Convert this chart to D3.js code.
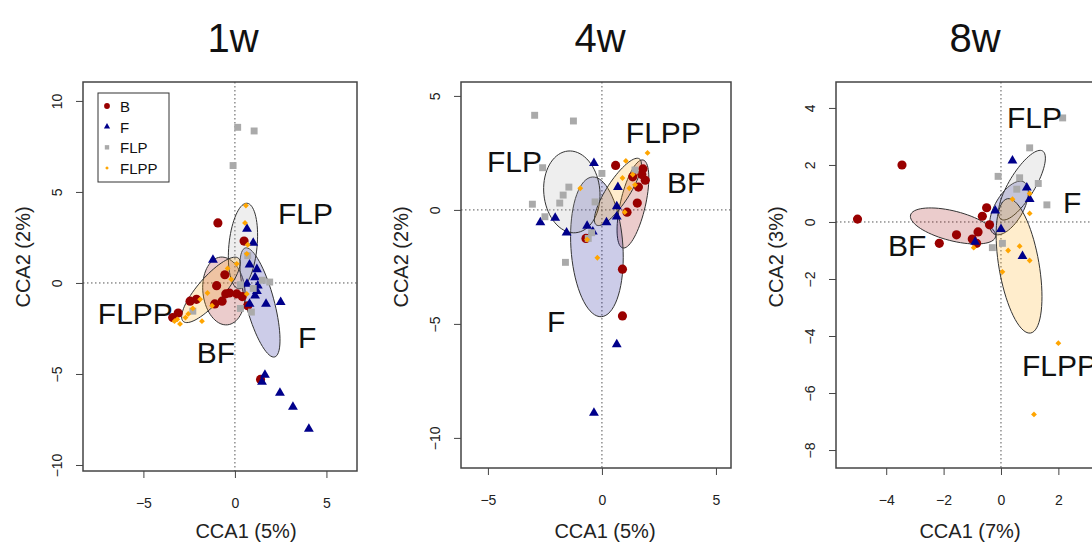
<!DOCTYPE html>
<html>
<head>
<meta charset="utf-8">
<script src="https://cdn.jsdelivr.net/npm/d3@7"></script>
<style>
body { margin: 0; background: #fff; }
svg { display: block; font-family: "Liberation Sans", Arial, sans-serif; }
</style>
</head>
<body>
<div id="grafica"></div>
<script>
var grupos = ["B", "F", "FLP", "FLPP"];
var nombres = ["BF", "F", "FLP", "FLPP"];
var titulos = ["1w", "4w", "8w"];
var ejeX = ["CCA1 (5%)", "CCA1 (5%)", "CCA1 (7%)"];
var ejeY = ["CCA2 (2%)", "CCA2 (2%)", "CCA2 (3%)"];
var ticksX = [[-5, 0, 5], [-5, 0, 5], [-4, -2, 0, 2]];
var ticksY = [[-10, -5, 0, 5, 10], [-10, -5, 0, 5], [-8, -6, -4, -2, 0, 2, 4]];

// 1w
var b1 = [[-0.93,3.3],[0.5,2.3],[-0.55,0.45],[-1.0,-0.15],[-0.3,-0.55],[0.1,-0.6],[0.4,-0.75],[0.7,-1.25],[-0.7,-1.0],[-1.1,-1.15],[-2.1,-0.9],[-2.45,-1.0],[-3.1,-1.65],[-3.4,-1.9],[-0.5,-0.6],[1.4,-5.3]];
var f1 = [[0.66,2.97],[1.0,2.2],[-1.2,1.26],[0.8,1.0],[1.2,0.75],[1.1,0.3],[1.25,-0.15],[1.2,-0.45],[1.1,-0.7],[1.7,-1.15],[2.5,-1.05],[0.8,-1.15],[0.66,-0.05],[1.64,-5.05],[1.48,-5.44],[2.46,-6.04],[3.17,-6.81],[4.04,-8.02]];
var flp1 = [[0.15,8.55],[1.05,8.35],[-0.1,6.45],[1.9,0.05],[1.5,0.15],[1.0,-0.3],[0.9,-1.6],[0.3,-1.4],[-2.3,-1.55],[0.7,1.5],[0.3,-0.1]];
var flpp1 = [[0.6,4.25],[0.55,3.3],[0.7,2.1],[0.65,1.6],[0.1,1.05],[-0.4,0.8],[-0.2,0.2],[-1.5,-0.55],[-1.9,-0.9],[-2.3,-1.4],[-2.55,-1.7],[-3.0,-2.25],[-3.3,-2.1],[-3.15,-2.0],[-1.8,-2.1],[-1.25,-1.25],[0.65,-0.6],[-2.7,-1.9]];
// elipses: centro x, centro y, semieje mayor, semieje menor, angulo (grados)
var elip1 = [[-0.6,-0.44,1.87,1.15,96],[1.37,-1.07,3.1,0.77,105],[0.44,2.03,2.36,0.77,84.5],[-1.31,-0.38,2.3,0.71,49]];

// 4w
var b2 = [[0.6,1.95],[1.8,1.8],[1.9,1.3],[1.35,1.45],[1.6,1.0],[1.75,1.55],[1.55,0.3],[1.1,-0.1],[-0.7,-1.25],[0.9,-2.6],[0.9,-4.65]];
var f2 = [[-0.35,2.05],[0.7,1.0],[-2.7,-0.55],[-2.05,-0.35],[-1.55,-1.0],[-0.65,-0.7],[-0.4,-0.95],[0.2,-0.55],[0.65,-0.3],[0.65,0.15],[0.65,-5.9],[-0.35,-8.9]];
var flp2 = [[-2.95,4.15],[-1.25,3.9],[-2.6,1.85],[-1.45,1.0],[-1.7,0.65],[-1.85,0.3],[-3.05,0.25],[-2.5,-0.3],[-0.3,0.35],[0,1.6],[-0.45,-1.0],[-0.6,-1.25],[-1.6,-2.3],[1.45,1.75]];
var flpp2 = [[2.0,2.5],[1.05,2.15],[-0.95,0.95],[0.9,1.4],[1.35,1.55],[1.45,1.1],[1.0,-0.1],[-0.65,-1.3],[-0.2,-2.1],[1.2,0.95]];
var elip2 = [[1.36,0.26,1.98,0.55,77],[-0.22,-1.62,3.07,1.14,93.7],[-1.32,0.79,1.8,1.23,95.5],[0.7,0.79,1.73,0.5,57]];

// 8w
var b3 = [[-5.0,0.1],[-3.45,2.0],[-2.15,-0.75],[-1.55,-0.45],[-1.0,-0.6],[-0.8,-0.35],[-0.65,0.2],[-0.5,0.5],[-0.4,-0.1],[-0.85,-0.75]];
var f3 = [[0.4,2.15],[0.9,1.2],[1.0,0.8],[-0.2,0.4],[0.0,-0.25],[-0.9,-0.7],[0.75,-1.2]];
var flp3 = [[2.15,3.65],[1.0,2.6],[-0.1,1.6],[0.65,1.55],[0.55,1.15],[1.3,1.35],[1.6,0.6],[-0.3,-0.9],[0.05,-0.75]];
var flpp3 = [[-0.95,-0.9],[0.4,0.8],[1.0,1.0],[1.0,0.3],[0.25,-1.0],[0.65,-0.85],[1.0,-1.35],[0.05,-1.75],[2.0,-4.25],[1.15,-6.75]];
var elip3 = [[-1.67,-0.14,1.53,0.52,-14.5],[0.28,0.49,1.05,0.49,60],[0.73,1.29,1.4,0.45,59],[0.63,-1.54,2.39,0.7,99.7]];

var puntos = [[b1, f1, flp1, flpp1], [b2, f2, flp2, flpp2], [b3, f3, flp3, flpp3]];
var elipses = [elip1, elip2, elip3];

// posicion de las etiquetas de grupo (coordenadas del grafico)
var etiquetas = [
	[[-2.08,-4.4],[3.44,-3.57],[2.35,3.24],[-7.49,-2.25]],
	[[2.85,0.75],[-2.41,-5.35],[-5.04,1.67],[1.05,2.94]],
	[[-3.94,-1.19],[2.16,0.31],[0.21,3.29],[0.73,-5.42]]
];

var colores = ["#990000", "#00008b", "#aaaaaa", "#ffa500"];
var simbolos = [d3.symbolCircle, d3.symbolTriangle, d3.symbolSquare, d3.symbolSquare];
var tamanos = [66, 42, 48, 17];
var giros = [0, 0, 0, 45];

// marco de cada panel
var paneles = [
	{ x0: 83, x1: 357, y0: 82, y1: 471, dx: [-8.3, 6.67], dy: [-10.33, 11.04], tit: 233, tx: 246 },
	{ x0: 461, x1: 731, y0: 82, y1: 468, dx: [-6.18, 5.66], dy: [-11.32, 5.61], tit: 600, tx: 605 },
	{ x0: 836, x1: 1108, y0: 82, y1: 468, dx: [-5.75, 3.73], dy: [-8.63, 4.91], tit: 975, tx: 970 }
];

var svg = d3.select("#grafica").append("svg")
	.attr("width", 1092)
	.attr("height", 542);

function elipse(e, x, y) {
	var ang = e[4] * Math.PI / 180;
	var pts = d3.range(0, 73).map(function (i) {
		var t = i / 72 * 2 * Math.PI;
		var u = e[2] * Math.cos(t), v = e[3] * Math.sin(t);
		return [x(e[0] + u * Math.cos(ang) - v * Math.sin(ang)),
			y(e[1] + u * Math.sin(ang) + v * Math.cos(ang))];
	});
	return d3.line().curve(d3.curveLinearClosed)(pts);
}

paneles.forEach(function (p, k) {
	var x = d3.scaleLinear().domain(p.dx).range([p.x0, p.x1]);
	var y = d3.scaleLinear().domain(p.dy).range([p.y1, p.y0]);
	var g = svg.append("g");

	g.append("text")
		.attr("x", p.tit).attr("y", 52)
		.attr("text-anchor", "middle")
		.style("font-size", "40px")
		.attr("fill", "#111")
		.text(titulos[k]);

	// lineas de referencia
	g.append("line")
		.attr("x1", x(0)).attr("x2", x(0)).attr("y1", p.y0).attr("y2", p.y1)
		.attr("stroke", "#555").attr("stroke-dasharray", "1.5,2.5");
	g.append("line")
		.attr("x1", p.x0).attr("x2", p.x1).attr("y1", y(0)).attr("y2", y(0))
		.attr("stroke", "#555").attr("stroke-dasharray", "1.5,2.5");

	// elipses
	g.selectAll("path.elipse")
		.data(elipses[k])
		.enter()
		.append("path")
		.attr("class", "elipse")
		.attr("d", function (e) { return elipse(e, x, y); })
		.attr("fill", function (e, i) { return colores[i]; })
		.attr("fill-opacity", 0.2)
		.attr("stroke", "#333")
		.attr("stroke-width", 1);

	// puntos
	puntos[k].forEach(function (serie, i) {
		g.selectAll("path.p" + i)
			.data(serie)
			.enter()
			.append("path")
			.attr("class", "p" + i)
			.attr("d", d3.symbol().type(simbolos[i]).size(tamanos[i]))
			.attr("transform", function (d) {
				return "translate(" + x(d[0]) + "," + y(d[1]) + ") rotate(" + giros[i] + ")";
			})
			.attr("fill", colores[i]);
	});

	// etiquetas de grupo
	g.selectAll("text.grupo")
		.data(etiquetas[k])
		.enter()
		.append("text")
		.attr("class", "grupo")
		.attr("x", function (d) { return x(d[0]); })
		.attr("y", function (d) { return y(d[1]); })
		.style("font-size", "30px")
		.attr("fill", "#111")
		.text(function (d, i) { return nombres[i]; });

	// ejes
	var ax = g.append("g")
		.attr("transform", "translate(0," + p.y1 + ")")
		.call(d3.axisBottom(x).tickValues(ticksX[k]).tickSize(7).tickSizeOuter(0).tickFormat(d3.format("d")));
	ax.select(".domain").remove();
	ax.selectAll("line").attr("stroke", "#444");
	ax.selectAll("text").attr("y", 0).attr("dy", null).attr("transform", "translate(0,37)")
		.style("font-size", "14px").attr("fill", "#222").attr("font-family", null);

	var ay = g.append("g")
		.attr("transform", "translate(" + p.x0 + ",0)")
		.call(d3.axisLeft(y).tickValues(ticksY[k]).tickSize(7).tickSizeOuter(0).tickFormat(d3.format("d")));
	ay.select(".domain").remove();
	ay.selectAll("line").attr("stroke", "#444");
	ay.selectAll("text")
		.attr("x", null).attr("dy", null)
		.attr("text-anchor", "middle")
		.attr("transform", "translate(-21,0) rotate(-90)")
		.style("font-size", "14px").attr("fill", "#222").attr("font-family", null);

	// marco
	g.append("rect")
		.attr("x", p.x0).attr("y", p.y0)
		.attr("width", p.x1 - p.x0).attr("height", p.y1 - p.y0)
		.attr("fill", "none").attr("stroke", "#444").attr("stroke-width", 1.5);

	g.append("text")
		.attr("x", p.tx).attr("y", 538)
		.attr("text-anchor", "middle")
		.style("font-size", "20px").attr("fill", "#222")
		.text(ejeX[k]);
	g.append("text")
		.attr("transform", "translate(" + (p.x0 - 53) + ",257) rotate(-90)")
		.attr("text-anchor", "middle")
		.style("font-size", "20px").attr("fill", "#222")
		.text(ejeY[k]);
});

// leyenda (solo en 1w)
var ley = svg.append("g");
ley.append("rect")
	.attr("x", 98).attr("y", 93).attr("width", 71).attr("height", 89)
	.attr("fill", "#fff").attr("stroke", "#333").attr("stroke-width", 1);
var fila = d3.scaleLinear().domain([0, 3]).range([106, 168]);
grupos.forEach(function (nombre, i) {
	ley.append("path")
		.attr("d", d3.symbol().type(simbolos[i]).size(tamanos[i] * 0.4))
		.attr("transform", "translate(107," + fila(i) + ") rotate(" + giros[i] + ")")
		.attr("fill", colores[i]);
	ley.append("text")
		.attr("x", 120).attr("y", fila(i) + 6)
		.style("font-size", "15px").attr("fill", "#111")
		.text(nombre);
});
</script>
</body>
</html>
